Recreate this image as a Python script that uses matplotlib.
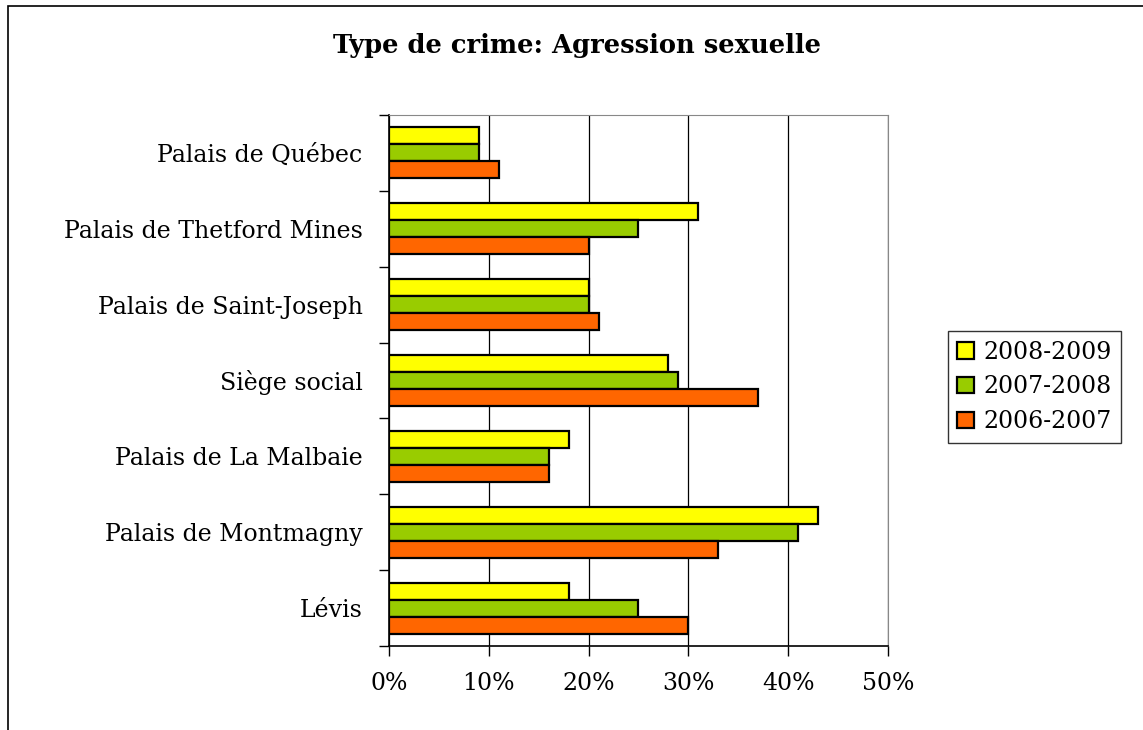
import matplotlib.pyplot as plt
from matplotlib.patches import Rectangle
import numpy as np

# sites, listed from the bottom of the chart to the top
sites = ["Lévis", "Palais de Montmagny", "Palais de La Malbaie", "Siège social",
         "Palais de Saint-Joseph", "Palais de Thetford Mines", "Palais de Québec"]
y2008_2009 = [18, 43, 18, 28, 20, 31, 9]
y2007_2008 = [25, 41, 16, 29, 20, 25, 9]
y2006_2007 = [30, 33, 16, 37, 21, 20, 11]
xticks = [0, 10, 20, 30, 40, 50]

plt.rcParams['font.family'] = ['DejaVu Serif']

fig = plt.figure(figsize=(11.43, 7.30), dpi=100)
ax = fig.add_axes([0.3403, 0.1151, 0.4366, 0.7274])

# outer chart frame
fig.patches.append(Rectangle((8 / 1143, -0.1), 1.2, 1.1 - 6 / 730, transform=fig.transFigure,
                             fill=False, edgecolor='black', linewidth=1.2))

pos = np.arange(len(sites))
h = 0.224
ax.barh(pos + h, y2008_2009, height=h, color='#ffff00', edgecolor='black', linewidth=1.6,
        label='2008-2009', zorder=3)
ax.barh(pos, y2007_2008, height=h, color='#99cc00', edgecolor='black', linewidth=1.6,
        label='2007-2008', zorder=3)
ax.barh(pos - h, y2006_2007, height=h, color='#ff6600', edgecolor='black', linewidth=1.6,
        label='2006-2007', zorder=3)

ax.set_xlim(0, 50)
ax.set_ylim(-0.5, len(sites) - 0.5)
ax.set_xticks(xticks)
ax.set_xticklabels([f"{v}%" for v in xticks], fontsize=17)
ax.xaxis.grid(True, color='black', linewidth=0.9, zorder=0)

# category ticks sit between the groups, labels at group centres
ax.set_yticks(np.arange(len(sites) + 1) - 0.5)
ax.set_yticklabels([])
ax.set_yticks(pos, minor=True)
ax.set_yticklabels(sites, minor=True, fontsize=17)
ax.tick_params(axis='y', which='minor', length=0, pad=19)
ax.tick_params(axis='y', which='major', length=7, width=1, direction='out')
ax.tick_params(axis='x', length=7, width=1, direction='out', pad=12)

for side in ['top', 'right']:
    ax.spines[side].set_color('#888888')
ax.spines['left'].set_linewidth(1.2)
ax.spines['bottom'].set_linewidth(1.2)

fig.text(0.505, 0.937, "Type de crime: Agression sexuelle", ha='center', va='center',
         fontsize=18.5, fontweight='bold')

leg = fig.legend(loc='center left', bbox_to_anchor=(0.8294, 0.47), fontsize=17,
                 frameon=True, fancybox=False, edgecolor='black', handlelength=0.7,
                 handleheight=0.7, handletextpad=0.4, labelspacing=0.5, borderpad=0.4,
                 borderaxespad=0)
leg.get_frame().set_linewidth(1.0)

fig.savefig('out.png', dpi=100)
